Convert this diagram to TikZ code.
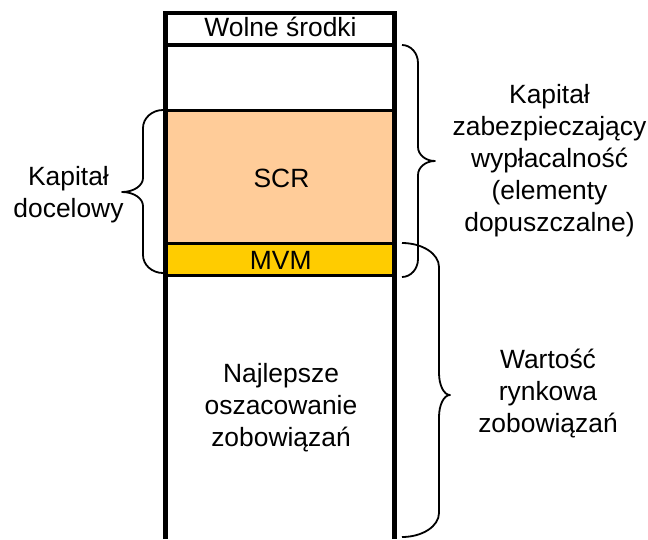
\documentclass[tikz,border=0pt]{standalone}
\usepackage{fontspec}
\setmainfont{Liberation Sans}
\definecolor{scrpeach}{HTML}{FFCC99}
\definecolor{mvmyellow}{HTML}{FFCC00}
\tikzset{
  lbl/.style={font=\fontsize{26.4}{32}\selectfont, inner sep=0pt, align=center, text=black},
  frame/.style={draw=black, line width=5pt},
  sepline/.style={draw=black, line width=3.2pt},
  bracepath/.style={draw=black, line width=1.8pt, line join=round}
}
\begin{document}
\begin{tikzpicture}[x=1pt,y=-1pt]
\useasboundingbox (0,0) rectangle (648,539);
% fills
\fill[scrpeach] (165.8,110.5) rectangle (394.8,243.3);
\fill[mvmyellow] (165.8,243.3) rectangle (394.8,275.7);
% horizontal separators
\draw[sepline] (165.8,45) -- (394.8,45);
\draw[draw=black, line width=2.6pt] (165.8,110.5) -- (394.8,110.5);
\draw[sepline] (165.8,243.3) -- (394.8,243.3);
\draw[sepline] (165.8,275.7) -- (394.8,275.7);
% outer frame
\draw[draw=black, line width=4pt] (163.3,13) -- (397.3,13);
\draw[frame] (165.8,11) -- (165.8,539);
\draw[frame] (394.8,11) -- (394.8,539);
% texts in column
\node[lbl, anchor=base] (wolne) at (280.5,36.7) {Wolne środki};
\node[lbl, anchor=base] (scr) at (281.5,187) {SCR};
\node[lbl, anchor=base] (mvm) at (280.7,269.3) {MVM};
\node[lbl] (be) at (281,408) {Najlepsze\\oszacowanie\\zobowiązań};
% side texts
\node[lbl] (kdoc) at (68.5,194.7) {Kapitał\\docelowy};
\node[lbl] (kzab) at (549.5,160.8) {Kapitał\\zabezpieczający\\wypłacalność\\(elementy\\dopuszczalne)};
\node[lbl] (wrz) at (548,394) {Wartość\\rynkowa\\zobowiązań};
% braces
\draw[bracepath] (163,110) .. controls (152,110) and (143,118.1) .. (143,128) -- (143,178)
  .. controls (143,185.7) and (133.6,192) .. (122,192)
  .. controls (133.6,192) and (143,198.3) .. (143,206)
  -- (143,255) .. controls (143,264.9) and (152,273) .. (163,273);
\draw[bracepath] (402,45) .. controls (410.8,45) and (418,53.1) .. (418,63) -- (418,147)
  .. controls (418,154.7) and (425.6,161) .. (435,161)
  .. controls (425.6,161) and (418,167.3) .. (418,175)
  -- (418,259) .. controls (418,268.9) and (410.8,277) .. (402,277);
\draw[bracepath] (402,243) .. controls (422.4,243) and (439,253.8) .. (439,267) -- (439,373)
  .. controls (439,385.1) and (443.9,395) .. (450,395)
  .. controls (443.9,395) and (439,404.9) .. (439,417)
  -- (439,513) .. controls (439,526.2) and (422.4,537) .. (402,537);
\end{tikzpicture}
\end{document}
